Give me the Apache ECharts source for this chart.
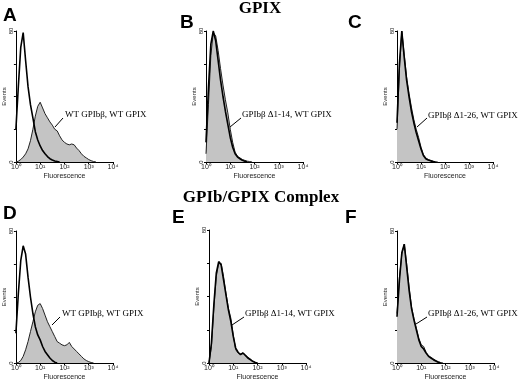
<!DOCTYPE html>
<html>
<head>
<meta charset="utf-8">
<script src="https://cdn.jsdelivr.net/npm/echarts@6/dist/echarts.min.js"></script>
<style>
  html, body { margin: 0; padding: 0; background: #fff; }
  #grafico { width: 520px; height: 382px; }
</style>
</head>
<body>
<div id="grafico"></div>
<script>
// Canales de fluorescencia (en décadas, 10^0 .. 10^4)
var decadas = [0, 0.1, 0.2, 0.3, 0.4, 0.5, 0.6, 0.7, 0.8, 0.9, 1.0, 1.1, 1.2, 1.3, 1.4, 1.5, 1.6, 1.7,
               1.8, 1.9, 2.0, 2.1, 2.2, 2.3, 2.4, 2.5, 2.6, 2.7, 2.8, 2.9, 3.0, 3.1, 3.2, 3.3];
var etiquetasX = ['10\u2070', '10\u00b9', '10\u00b2', '10\u00b3', '10\u2074'];

// Panel A / D: WT GPIbβ, WT GPIX
var controlA = [20, 46, 70, 79, 62, 46, 35, 27, 18.5, 13.4, 9.8, 7, 5, 3.3, 2, 1.2, 0.6, 0.3, 0];
var muestraA = [0, 0.5, 1.5, 3, 5, 8, 13, 20, 28, 34, 36.5, 33, 29.5, 27, 24.5, 22.5, 20, 19, 16, 13.5,
                12, 11, 10.5, 11, 10.5, 8.5, 7, 5, 3.5, 2.5, 1.5, 0.8, 0.3, 0];
// Panel B: GPIbβ Δ1-14
var controlB = [12, 45, 72, 80, 74, 62, 50, 40, 31, 23, 15, 9, 5, 3, 2, 1, 0.5, 0];
var muestraB = [5, 35, 65, 79, 77, 68, 57, 47, 38, 30, 20, 12, 6, 3.5, 2.5, 1.5, 1, 0.5, 0.3, 0];
// Panel C: GPIbβ Δ1-26
var controlC = [24, 60, 80, 64, 50, 40, 31, 24, 18, 13, 8, 4, 2, 1.2, 0.7, 0.3, 0];
var muestraC = [20, 56, 80, 66, 52, 42, 33.5, 26, 20, 15, 9, 4.5, 2.5, 1.5, 1, 0.5, 0.2, 0];
// Panel D
var controlD = [18, 42, 62, 71, 66, 52, 40, 30, 22, 17, 14, 10, 7, 5, 3, 1.5, 0.5, 0];
var muestraD = [0, 0.3, 1.5, 4, 8, 13, 19, 25, 31, 35, 36, 33, 29, 25, 22, 19, 16, 13, 12, 11,
                10.5, 11, 12.5, 10, 8.5, 7, 5.5, 4, 2.5, 1.5, 0.8, 0.3, 0];
// Panel E
var controlE = [0, 12, 35, 54, 61, 59, 50, 41, 32, 25, 16, 9, 6.5, 5, 6, 4.5, 3, 2, 1, 0.3, 0];
var muestraE = [0, 10, 33, 52, 60, 60, 52, 42, 33, 27, 17, 8, 6, 5.5, 6, 5, 3.5, 2.5, 1.2, 0.5, 0];
// Panel F
var controlF = [28, 50, 67, 72, 58, 44, 33, 26, 20, 14, 10, 8.5, 6, 4, 3, 2, 1.2, 0.5, 0];
var muestraF = [30, 52, 66, 72, 60, 46, 34, 27, 21, 15, 11, 10, 6.5, 4.5, 3.5, 2.5, 1.5, 0.8, 0.3, 0];

var textosMuestra = ['WT GPIb\u03b2, WT GPIX', 'GPIb\u03b2 \u03941-14, WT GPIX', 'GPIb\u03b2 \u03941-26, WT GPIX',
                     'WT GPIb\u03b2, WT GPIX', 'GPIb\u03b2 \u03941-14, WT GPIX', 'GPIb\u03b2 \u03941-26, WT GPIX'];

var paneles = [
    { letra: 'A', control: controlA, muestra: muestraA, grid: [15, 31, 98, 131], letraPos: [3, 6],
      linea: [63, 118, 55, 127], texto: [65, 115] },
    { letra: 'B', control: controlB, muestra: muestraB, grid: [206, 31, 97, 131], letraPos: [180, 13],
      linea: [241, 118, 230, 127], texto: [242, 115] },
    { letra: 'C', control: controlC, muestra: muestraC, grid: [397, 31, 96, 131], letraPos: [348, 13],
      linea: [427, 118, 417, 127], texto: [428, 116] },
    { letra: 'D', control: controlD, muestra: muestraD, grid: [15, 231, 98, 132], letraPos: [3, 204],
      linea: [60, 317, 52, 325], texto: [62, 314] },
    { letra: 'E', control: controlE, muestra: muestraE, grid: [209, 230, 97, 134], letraPos: [172, 208],
      linea: [244, 317, 232, 325], texto: [245, 314] },
    { letra: 'F', control: controlF, muestra: muestraF, grid: [397, 231, 97, 134], letraPos: [345, 208],
      linea: [427, 317, 416, 324], texto: [428, 314] }
];

function pares(valores) {
    return valores.map(function (v, i) { return [decadas[i], v]; });
}

var grids = [], xAxes = [], yAxes = [], series = [], graficos = [];

paneles.forEach(function (p, i) {
    grids.push({ left: p.grid[0], top: p.grid[1], width: p.grid[2], height: p.grid[3] });
    xAxes.push({
        gridIndex: i, type: 'value', min: 0, max: 4, interval: 1,
        name: 'Fluorescence', nameLocation: 'middle', nameGap: 11,
        nameTextStyle: { fontFamily: 'Liberation Sans', fontSize: 7, color: '#222' },
        axisLine: { lineStyle: { color: '#000', width: 1 } },
        axisTick: { length: 2, lineStyle: { color: '#000' } },
        axisLabel: { fontFamily: 'Liberation Sans', fontSize: 7, color: '#222', margin: 2,
                     formatter: function (v) { return etiquetasX[v]; } },
        splitLine: { show: false }
    });
    yAxes.push({
        gridIndex: i, type: 'value', min: 0, max: 80, interval: 20,
        name: 'Events', nameLocation: 'middle', nameGap: 7, nameRotate: 90,
        nameTextStyle: { fontFamily: 'Liberation Sans', fontSize: 6, color: '#222' },
        axisLine: { show: true, lineStyle: { color: '#000', width: 1 } },
        axisTick: { show: true, length: 2, lineStyle: { color: '#000' } },
        axisLabel: { fontFamily: 'Liberation Sans', fontSize: 6, color: '#222', margin: 2, rotate: 90,
                     formatter: function (v) { return (v === 0 || v === 80) ? String(v) : ''; } },
        splitLine: { show: false }
    });
    // muestra (gris rellena)
    series.push({
        type: 'line', xAxisIndex: i, yAxisIndex: i, data: pares(p.muestra),
        symbol: 'none', silent: true,
        lineStyle: { color: '#222', width: 1 },
        areaStyle: { color: '#c4c4c4', opacity: 1 }
    });
    // control (contorno negro)
    series.push({
        type: 'line', xAxisIndex: i, yAxisIndex: i, data: pares(p.control),
        symbol: 'none', silent: true,
        lineStyle: { color: '#000', width: 1.6 }
    });
    graficos.push({
        type: 'text', left: p.letraPos[0], top: p.letraPos[1],
        style: { text: p.letra, font: 'bold 19px "Liberation Sans"', fill: '#000' }
    });
    graficos.push({
        type: 'line', shape: { x1: p.linea[0], y1: p.linea[1], x2: p.linea[2], y2: p.linea[3] },
        style: { stroke: '#000', lineWidth: 1 }
    });
    graficos.push({
        type: 'text', x: p.texto[0], y: p.texto[1],
        style: { text: textosMuestra[i], font: '9px "Liberation Serif"', fill: '#000',
                 verticalAlign: 'middle' }
    });
});

graficos.push({
    type: 'text', x: 260, y: 9,
    style: { text: 'GPIX', font: 'bold 17px "Liberation Serif"', fill: '#000',
             align: 'center', verticalAlign: 'middle' }
});
graficos.push({
    type: 'text', x: 261, y: 198,
    style: { text: 'GPIb/GPIX Complex', font: 'bold 17px "Liberation Serif"', fill: '#000',
             align: 'center', verticalAlign: 'middle' }
});

var grafico = echarts.init(document.getElementById('grafico'), null, { renderer: 'canvas' });
grafico.setOption({
    animation: false,
    backgroundColor: '#fff',
    grid: grids,
    xAxis: xAxes,
    yAxis: yAxes,
    series: series,
    graphic: graficos
});
</script>
</body>
</html>
